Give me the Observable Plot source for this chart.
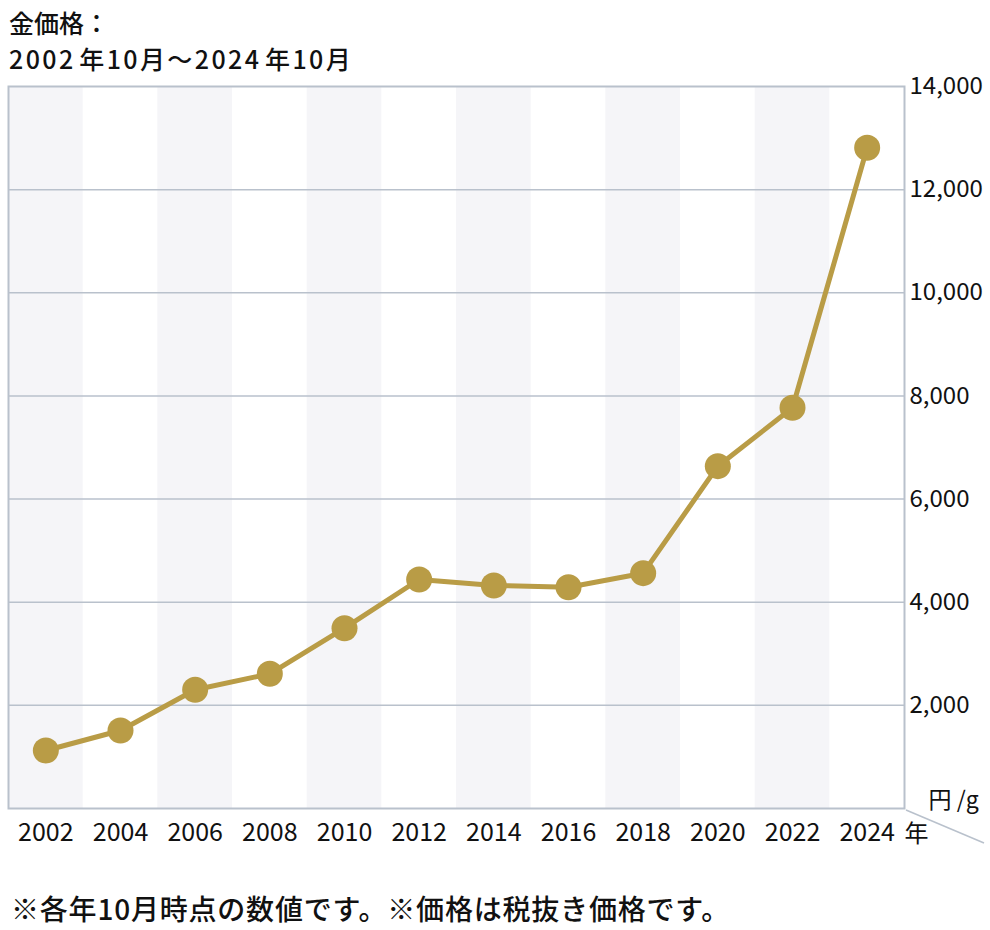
<!DOCTYPE html>
<html>
<head>
<meta charset="utf-8">
<script src="https://cdn.jsdelivr.net/npm/d3@7"></script>
<script src="https://cdn.jsdelivr.net/npm/@observablehq/plot@0.6"></script>
<style>
  body { margin: 0; background: #fff; font-family: "Noto Sans CJK JP", "Noto Sans", sans-serif; color: #111; }
  #title { box-sizing: border-box; height: 64px; padding: 4px 0 0 9px; font-size: 25px; line-height: 36px; font-weight: 500; white-space: nowrap; }
  #title .l2 { letter-spacing: 2.4px; }
  #title .sp { letter-spacing: -2px; }
  #caption { margin-top: 24px; padding-left: 11px; font-size: 28px; line-height: 36px; font-weight: 500; letter-spacing: 0.8px; white-space: nowrap; }
</style>
</head>
<body>
<div id="title">金価格：<br><span class="l2">2002<span class="sp"> </span>年10月～2024<span class="sp"> </span>年10月</span></div>
<div id="chart"></div>
<div id="caption">※各年10月時点の数値です。※価格は税抜き価格です。</div>
<script>
// Data
const years = [2002, 2004, 2006, 2008, 2010, 2012, 2014, 2016, 2018, 2020, 2022, 2024];
const prices = [1125, 1513, 2302, 2612, 3496, 4441, 4324, 4291, 4563, 6638, 7770, 12812];
const yTicks = [2000, 4000, 6000, 8000, 10000, 12000, 14000];
const gridTicks = [2000, 4000, 6000, 8000, 10000, 12000];
const unitLabel = "円 /g";
const yearLabel = "年";

const data = years.map((y, i) => ({year: y, price: prices[i]}));
const shaded = years.filter((d, i) => i % 2 === 0);

const gold = "#b99c46";
const gridColor = "#b9c1cc";

const diagonal = (index, scales, values, dims) => {
  const x0 = dims.width - dims.marginRight + 2;
  const y0 = dims.height - dims.marginBottom + 2;
  const line = document.createElementNS("http://www.w3.org/2000/svg", "line");
  line.setAttribute("x1", x0);
  line.setAttribute("y1", y0);
  line.setAttribute("x2", x0 + 78);
  line.setAttribute("y2", y0 + 33);
  line.setAttribute("stroke", gridColor);
  line.setAttribute("stroke-width", 1.5);
  return line;
};

const chart = Plot.plot({
  width: 990,
  height: 802,
  marginTop: 22,
  marginBottom: 58,
  marginLeft: 8,
  marginRight: 86,
  style: {fontFamily: "'Noto Sans CJK JP', 'Noto Sans', sans-serif", fontSize: "24px", color: "#111", background: "transparent"},
  x: {domain: [years[0] - 1, years[years.length - 1] + 1]},
  y: {domain: [0, 14000]},
  marks: [
    Plot.rect(shaded, {x1: d => d - 1, x2: d => d + 1, y1: 0, y2: 14000, fill: "#f5f5f8"}),
    Plot.gridY(gridTicks, {stroke: gridColor, strokeOpacity: 1, strokeWidth: 1.5}),
    Plot.frame({stroke: gridColor, strokeWidth: 2}),
    Plot.axisX(years, {tickSize: 0, tickPadding: 15, tickFormat: d => String(d), label: null, fontSize: 25}),
    Plot.axisY(yTicks, {anchor: "right", tickSize: 0, tickPadding: 5, tickFormat: d3.format(","), label: null, fontSize: 24}),
    Plot.text([yearLabel], {frameAnchor: "bottom-right", text: d => d, textAnchor: "start", lineAnchor: "middle", dx: 0, dy: 26, fontSize: 24, fill: "#111"}),
    Plot.text([unitLabel], {frameAnchor: "bottom-right", text: d => d, textAnchor: "start", lineAnchor: "middle", dx: 24, dy: -8, fontSize: 23, fill: "#111"}),
    diagonal,
    Plot.line(data, {x: "year", y: "price", stroke: gold, strokeWidth: 5}),
    Plot.dot(data, {x: "year", y: "price", r: 13, fill: gold, stroke: "none"})
  ]
});
document.getElementById("chart").appendChild(chart);
</script>
</body>
</html>
